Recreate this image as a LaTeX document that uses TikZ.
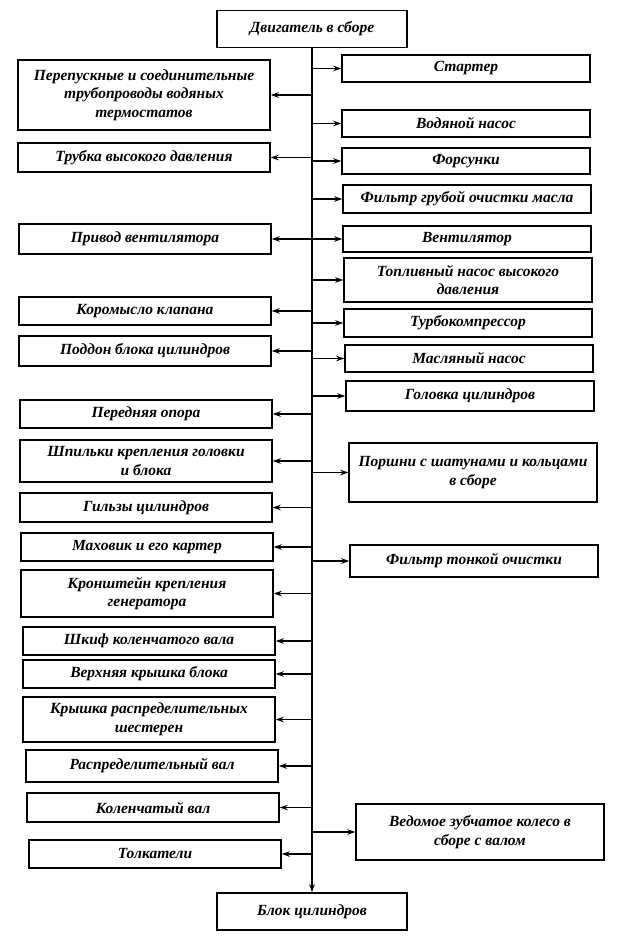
\documentclass[tikz,border=0pt]{standalone}
\usepackage{fontspec}
\setmainfont{Liberation Serif}
\usetikzlibrary{arrows.meta}

\begin{document}
\begin{tikzpicture}[
    x=1pt, y=-1pt,
    block/.style={rectangle, draw, line width=1.5pt, align=center, inner sep=2pt, font=\fontsize{15.5}{18.5}\selectfont\bfseries\itshape},
    mainpart/.style={block, minimum width=190pt, minimum height=37pt},
    leftpart/.style={block, minimum width=252pt},
    rightpart/.style={block, minimum width=248pt},
    link/.style={-{Stealth[length=8pt,width=5.5pt]}, line width=1.3pt},
]
\useasboundingbox (0,0) rectangle (617,949);

% top and bottom
\node[mainpart] (eng) at (312, 29) {Двигатель в сборе};
\node[mainpart] (blk) at (312, 911.5) {Блок цилиндров};

% left column
\node[leftpart, minimum height=70pt] (l1) at (144, 95) {Перепускные и соединительные\\трубопроводы водяных\\термостатов};
\node[leftpart, minimum height=29pt] (l2) at (144, 157.5) {Трубка высокого давления};
\node[leftpart, minimum height=30pt] (l3) at (145, 239) {Привод вентилятора};
\node[leftpart, minimum height=28pt] (l4) at (145, 311) {Коромысло клапана};
\node[leftpart, minimum height=30pt] (l5) at (145, 351) {Поддон блока цилиндров};
\node[leftpart, minimum height=28pt] (l6) at (146, 414) {Передняя опора};
\node[leftpart, minimum height=42pt] (l7) at (146, 461) {Шпильки крепления головки\\и блока};
\node[leftpart, minimum height=29pt] (l8) at (146, 507.5) {Гильзы цилиндров};
\node[leftpart, minimum height=28pt] (l9) at (147, 547) {Маховик и его картер};
\node[leftpart, minimum height=47pt] (l10) at (147, 593.5) {Кронштейн крепления\\генератора};
\node[leftpart, minimum height=28pt] (l11) at (149, 641) {Шкиф коленчатого вала};
\node[leftpart, minimum height=28pt] (l12) at (149, 674) {Верхняя крышка блока};
\node[leftpart, minimum height=45pt] (l13) at (149, 719.5) {Крышка распределительных\\шестерен};
\node[leftpart, minimum height=32pt] (l14) at (152, 766) {Распределительный вал};
\node[leftpart, minimum height=29pt] (l15) at (153, 807.5) {Коленчатый вал};
\node[leftpart, minimum height=28pt] (l16) at (155, 854) {Толкатели};

% right column
\node[rightpart, minimum height=27pt] (r1) at (466, 68.5) {Стартер};
\node[rightpart, minimum height=27pt] (r2) at (466, 123.5) {Водяной насос};
\node[rightpart, minimum height=26pt] (r3) at (466, 161) {Форсунки};
\node[rightpart, minimum height=28pt] (r4) at (467, 199) {Фильтр грубой очистки масла};
\node[rightpart, minimum height=26pt] (r5) at (467, 239) {Вентилятор};
\node[rightpart, minimum height=44pt] (r6) at (468, 280) {Топливный насос высокого\\давления};
\node[rightpart, minimum height=28pt] (r7) at (468, 323) {Турбокомпрессор};
\node[rightpart, minimum height=27pt] (r8) at (469, 358.5) {Масляный насос};
\node[rightpart, minimum height=30pt] (r9) at (470, 396) {Головка цилиндров};
\node[rightpart, minimum height=59pt] (r10) at (473, 472.5) {Поршни с шатунами и кольцами\\в сборе};
\node[rightpart, minimum height=32pt] (r11) at (474, 561) {Фильтр тонкой очистки};
\node[rightpart, minimum height=56pt] (r12) at (480, 832) {Ведомое зубчатое колесо в\\сборе с валом};

% trunk
\draw[link] (eng) -- (blk);

% branches to the left
\draw[link] (eng.south |- l1.east) -- (l1.east);
\draw[link] (eng.south |- l2.east) -- (l2.east);
\draw[link] (eng.south |- l3.east) -- (l3.east);
\draw[link] (eng.south |- l4.east) -- (l4.east);
\draw[link] (eng.south |- l5.east) -- (l5.east);
\draw[link] (eng.south |- l6.east) -- (l6.east);
\draw[link] (eng.south |- l7.east) -- (l7.east);
\draw[link] (eng.south |- l8.east) -- (l8.east);
\draw[link] (eng.south |- l9.east) -- (l9.east);
\draw[link] (eng.south |- l10.east) -- (l10.east);
\draw[link] (eng.south |- l11.east) -- (l11.east);
\draw[link] (eng.south |- l12.east) -- (l12.east);
\draw[link] (eng.south |- l13.east) -- (l13.east);
\draw[link] (eng.south |- l14.east) -- (l14.east);
\draw[link] (eng.south |- l15.east) -- (l15.east);
\draw[link] (eng.south |- l16.east) -- (l16.east);

% branches to the right
\draw[link] (eng.south |- r1.west) -- (r1.west);
\draw[link] (eng.south |- r2.west) -- (r2.west);
\draw[link] (eng.south |- r3.west) -- (r3.west);
\draw[link] (eng.south |- r4.west) -- (r4.west);
\draw[link] (eng.south |- r5.west) -- (r5.west);
\draw[link] (eng.south |- r6.west) -- (r6.west);
\draw[link] (eng.south |- r7.west) -- (r7.west);
\draw[link] (eng.south |- r8.west) -- (r8.west);
\draw[link] (eng.south |- r9.west) -- (r9.west);
\draw[link] (eng.south |- r10.west) -- (r10.west);
\draw[link] (eng.south |- r11.west) -- (r11.west);
\draw[link] (eng.south |- r12.west) -- (r12.west);

\end{tikzpicture}
\end{document}
